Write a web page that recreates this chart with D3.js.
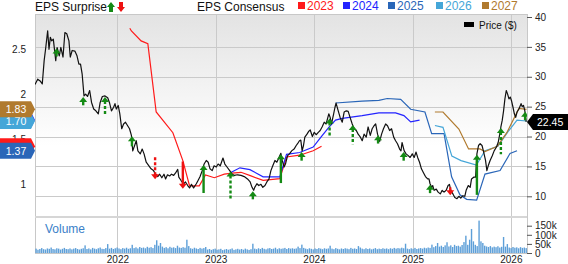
<!DOCTYPE html>
<html>
<head>
<meta charset="utf-8">
<script src="https://cdn.jsdelivr.net/npm/d3@7"></script>
<style>
body { margin: 0; background: #fff; }
svg { display: block; font-family: "Liberation Sans", Arial, sans-serif; }
</style>
</head>
<body>
<svg id="chart"></svg>
<script>
// ---- data ----
const yearTicks = ["2022-01-01", "2023-01-01", "2024-01-01", "2025-01-01", "2026-01-01"];
const priceTicks = [10, 15, 20, 25, 30, 35, 40];
const epsTicks = [1, 1.5, 2, 2.5];
const volTicks = [0, 50, 100, 150];

const priceData = [
  ["2021-03-01",28.7],["2021-03-11",29.6],["2021-03-20",29.3],["2021-03-28",28.8],["2021-04-04",32.7],
  ["2021-04-10",34.9],["2021-04-17",37.7],["2021-04-22",34.6],["2021-04-27",36.6],["2021-05-02",36.0],
  ["2021-05-08",36.3],["2021-05-17",32.7],["2021-05-22",34.9],["2021-05-30",33.5],["2021-06-05",34.9],
  ["2021-06-13",33.3],["2021-06-20",37.4],["2021-06-27",37.2],["2021-07-05",36.0],["2021-07-10",33.3],
  ["2021-07-17",34.4],["2021-07-27",34.3],["2021-08-04",33.5],["2021-08-11",32.1],["2021-08-17",32.1],
  ["2021-08-23",30.5],["2021-08-30",26.8],["2021-09-05",27.1],["2021-09-12",26.7],["2021-09-20",27.7],
  ["2021-09-27",25.7],["2021-10-05",24.6],["2021-10-13",24.3],["2021-10-22",23.8],["2021-10-29",25.7],
  ["2021-11-06",26.7],["2021-11-16",26.8],["2021-11-26",26.5],["2021-12-03",25.6],["2021-12-10",24.3],
  ["2021-12-18",24.9],["2021-12-23",25.5],["2021-12-28",24.6],["2022-01-04",25.2],["2022-01-10",23.8],
  ["2022-01-17",21.3],["2022-01-24",22.1],["2022-01-31",22.4],["2022-02-08",21.8],["2022-02-15",21.3],
  ["2022-02-22",20.2],["2022-02-27",17.6],["2022-03-12",19.3],["2022-03-18",17.6],["2022-03-27",17.1],
  ["2022-04-03",17.9],["2022-04-10",17.1],["2022-04-18",15.7],["2022-04-28",15.1],["2022-05-06",14.6],
  ["2022-05-15",14.3],["2022-05-23",13.7],["2022-05-31",13.3],["2022-06-07",13.7],["2022-06-15",13.1],
  ["2022-06-23",13.7],["2022-06-29",12.9],["2022-07-06",13.6],["2022-07-14",13.4],["2022-07-21",13.7],
  ["2022-07-29",13.5],["2022-08-05",13.9],["2022-08-13",14.5],["2022-08-17",13.2],["2022-08-26",12.6],
  ["2022-09-04",12.1],["2022-09-11",12.4],["2022-09-19",11.8],["2022-09-26",11.4],["2022-10-03",12.0],
  ["2022-10-11",11.4],["2022-10-21",12.1],["2022-10-28",12.7],["2022-11-04",13.3],["2022-11-12",14.3],
  ["2022-11-19",15.4],["2022-11-27",16.0],["2022-12-04",15.7],["2022-12-11",14.6],["2022-12-19",14.3],
  ["2022-12-26",15.1],["2023-01-03",14.9],["2023-01-10",15.4],["2023-01-18",15.1],["2023-01-28",16.4],
  ["2023-02-04",15.4],["2023-02-12",14.9],["2023-02-22",14.3],["2023-03-03",13.7],["2023-03-11",13.5],
  ["2023-03-23",13.6],["2023-04-05",13.5],["2023-04-17",13.3],["2023-04-29",12.9],["2023-05-09",12.4],
  ["2023-05-16",11.5],["2023-05-22",11.0],["2023-05-26",11.5],["2023-06-03",12.1],["2023-06-10",11.8],
  ["2023-06-18",12.0],["2023-06-25",11.5],["2023-07-03",11.8],["2023-07-10",12.4],["2023-07-18",12.9],
  ["2023-07-25",14.3],["2023-08-01",15.1],["2023-08-09",16.0],["2023-08-16",15.7],["2023-08-24",16.5],
  ["2023-08-31",17.2],["2023-09-05",16.0],["2023-09-12",14.9],["2023-09-17",15.4],["2023-09-25",16.8],
  ["2023-10-02",17.1],["2023-10-10",17.6],["2023-10-19",17.9],["2023-10-27",18.5],["2023-11-01",18.8],
  ["2023-11-08",19.3],["2023-11-13",19.4],["2023-11-18",17.6],["2023-11-23",18.5],["2023-11-28",19.9],
  ["2023-12-06",20.4],["2023-12-13",20.9],["2023-12-18",21.1],["2023-12-26",20.0],["2024-01-02",20.7],
  ["2024-01-09",20.3],["2024-01-17",20.7],["2024-01-24",21.0],["2024-01-31",21.6],["2024-02-08",22.4],
  ["2024-02-15",22.1],["2024-02-25",23.8],["2024-03-01",23.2],["2024-03-06",22.1],["2024-03-14",23.8],
  ["2024-03-19",24.9],["2024-03-23",25.6],["2024-03-31",24.3],["2024-04-07",23.2],["2024-04-15",22.4],
  ["2024-04-22",24.1],["2024-04-30",24.3],["2024-05-07",24.2],["2024-05-14",23.2],["2024-05-22",22.1],
  ["2024-05-29",21.3],["2024-06-06",21.0],["2024-06-13",20.4],["2024-06-20",20.0],["2024-06-28",19.3],
  ["2024-07-05",20.4],["2024-07-13",19.9],["2024-07-20",21.6],["2024-07-28",20.2],["2024-08-04",21.3],
  ["2024-08-11",21.8],["2024-08-17",22.1],["2024-08-24",20.4],["2024-09-01",19.2],["2024-09-08",20.4],
  ["2024-09-15",21.3],["2024-09-23",22.1],["2024-09-30",21.8],["2024-10-08",21.0],["2024-10-15",21.3],
  ["2024-10-23",19.9],["2024-10-30",19.3],["2024-11-06",18.8],["2024-11-14",17.9],["2024-11-19",17.6],
  ["2024-11-23",19.0],["2024-12-01",17.6],["2024-12-08",17.1],["2024-12-16",16.8],["2024-12-23",16.5],
  ["2024-12-31",17.1],["2025-01-07",16.5],["2025-01-14",17.4],["2025-01-20",16.5],["2025-01-27",15.7],
  ["2025-02-03",14.6],["2025-02-11",13.9],["2025-02-18",13.3],["2025-02-26",12.9],["2025-03-03",12.9],
  ["2025-03-07",12.1],["2025-03-13",11.5],["2025-03-17",11.8],["2025-03-22",11.0],["2025-03-30",11.2],
  ["2025-04-06",10.7],["2025-04-14",10.4],["2025-04-21",11.0],["2025-04-28",10.7],["2025-05-06",11.0],
  ["2025-05-13",11.8],["2025-05-18",12.0],["2025-05-23",11.0],["2025-05-31",10.4],["2025-06-07",9.8],
  ["2025-06-15",9.6],["2025-06-22",10.0],["2025-06-29",9.7],["2025-07-07",10.1],["2025-07-14",10.0],
  ["2025-07-19",11.0],["2025-07-27",11.8],["2025-08-03",11.5],["2025-08-08",12.9],["2025-08-16",13.2],
  ["2025-08-23",13.2],["2025-08-28",17.1],["2025-09-03",18.5],["2025-09-09",18.8],["2025-09-16",18.5],
  ["2025-09-21",17.6],["2025-09-29",16.0],["2025-10-04",14.3],["2025-10-09",15.1],["2025-10-16",16.0],
  ["2025-10-24",16.8],["2025-10-31",17.6],["2025-11-08",18.2],["2025-11-15",19.0],["2025-11-20",20.2],
  ["2025-11-25",21.6],["2025-11-30",22.7],["2025-12-05",24.3],["2025-12-10",26.3],["2025-12-15",27.7],
  ["2025-12-20",27.1],["2025-12-25",26.3],["2025-12-30",26.6],["2026-01-04",25.9],["2026-01-09",24.9],
  ["2026-01-14",23.8],["2026-01-19",23.2],["2026-01-24",24.1],["2026-01-31",24.6],["2026-02-08",25.5],
  ["2026-02-12",25.0],["2026-02-17",25.2],["2026-02-22",24.3],["2026-02-27",22.45]
];

// EPS consensus per fiscal year
const cons2023 = [
  ["2022-02-16",2.73],["2022-02-22",2.70],["2022-03-30",2.59],["2022-04-24",2.56],["2022-05-25",1.80],
  ["2022-07-26",1.57],["2022-09-01",1.26],["2022-09-26",0.98],["2022-11-01",0.98],["2022-11-24",1.10],
  ["2022-12-27",1.07],["2023-02-02",1.11],["2023-03-03",1.12],["2023-04-05",1.13],["2023-05-12",1.09],
  ["2023-06-26",1.04],["2023-08-27",1.06],["2023-09-21",1.30],["2023-11-09",1.32],["2023-12-29",1.37],
  ["2024-01-29",1.42]
];
const cons2024 = [
  ["2023-02-28",1.13],["2023-04-01",1.18],["2023-05-08",1.16],["2023-06-26",1.08],["2023-08-27",1.08],
  ["2023-09-21",1.33],["2023-11-09",1.35],["2023-12-29",1.41],["2024-01-29",1.53],["2024-02-25",1.63],
  ["2024-03-21",1.71],["2024-04-15",1.73],["2024-06-28",1.76],["2024-08-29",1.79],["2024-10-30",1.79],
  ["2024-11-30",1.76],["2024-12-25",1.69],["2025-01-27",1.71]
];
const cons2025 = [
  ["2024-03-21",1.90],["2024-06-28",1.92],["2024-08-29",1.93],["2024-09-29",1.95],["2024-11-18",1.94],
  ["2024-12-25",1.83],["2025-02-16",1.80],["2025-03-13",1.56],["2025-04-28",1.56],["2025-05-26",1.08],
  ["2025-06-26",0.88],["2025-07-21",0.83],["2025-08-27",0.82],["2025-09-27",1.11],["2025-11-22",1.15],
  ["2025-12-29",1.34],["2026-01-24",1.37]
];
const cons2026 = [
  ["2025-03-25",1.65],["2025-04-24",1.63],["2025-05-27",1.31],["2025-06-30",1.26],["2025-08-26",1.21],
  ["2025-09-27",1.37],["2025-11-14",1.42],["2025-12-21",1.58],["2026-01-24",1.71],["2026-02-28",1.70]
];
const cons2027 = [
  ["2025-03-25",1.80],["2025-04-24",1.80],["2025-06-22",1.61],["2025-07-28",1.39],["2025-09-08",1.39],
  ["2025-09-27",1.36],["2025-11-12",1.42],["2025-12-17",1.57],["2026-01-31",1.84],["2026-02-28",1.83]
];

// EPS surprise events (percent), dashed = dashed arrow stem
const surpriseDates = ["2021-05-20","2021-08-27","2021-11-16","2022-02-24","2022-05-21","2022-09-01",
  "2022-11-17","2023-02-25","2023-05-19","2023-08-31","2023-11-16","2024-02-28","2024-05-24",
  "2024-08-26","2024-11-29","2025-03-07","2025-05-21","2025-08-28","2025-11-25","2026-02-23"];
const surprisePct = [9, 10.5, 23, 12.5, -29, -34, 35, 35, 10, 36, 11, 22.5, 24, 10.5, 11, 10.5, -8.5, 50, 33, 10.5];
const surpriseDashed = [false, false, true, false, true, false, false, true, false, false, false, true, true,
  false, false, false, false, false, true, false];

// weekly volume, thousands
const volStart = "2021-03-05";
const volumes = [
  24,18,22,27,21,19,25,23,30,22,20,26,24,19,23,28,22,21,25,20,24,27,22,19,23,26,42,
  22,25,20,28,24,21,26,30,23,22,27,49,
  24,28,22,26,30,25,21,27,24,29,23,26,45,
  27,31,25,33,28,30,26,34,29,32,27,45,70,40,55,35,
  28,32,26,34,29,31,27,40,30,28,32,29,73,38,
  26,23,29,25,22,28,24,27,33,
  19,22,17,21,24,18,20,23,16,19,22,18,21,25,17,20,23,19,22,18,24,20,17,21,51,
  24,21,26,22,28,23,20,25,27,22,24,29,21,26,23,25,28,22,27,24,26,23,25,35,27,46,
  28,24,21,26,23,20,25,22,27,24,21,26,23,25,40,
  24,21,27,23,20,25,22,26,24,21,28,23,25,22,38,30,
  24,21,26,22,25,20,23,27,21,24,22,26,23,25,21,
  26,23,28,24,27,25,29,26,51,
  24,21,26,23,28,22,25,27,24,29,26,30,28,
  46,32,38,55,35,40,33,42,59,
  36,42,33,45,38,40,35,44,
  60,95,45,73,132,64,45,38,178,64,55,40,
  36,33,38,31,35,32,37,30,34,88,35,49,
  30,27,33,29,31,26,32,28,30,27
];

// ---- layout ----
const W = 568, H = 264;
const pLeft = 35, pRight = 527, pTop = 14, mainBottom = 217, volBottom = 253;
const parse = d3.timeParse("%Y-%m-%d");
const font = "Liberation Sans, Arial, sans-serif";

const svg = d3.select("#chart").attr("width", W).attr("height", H);

const x = d3.scaleTime()
  .domain([parse("2021-03-01"), parse("2026-03-02")])
  .range([pLeft, pRight]);
const yPrice = d3.scaleLinear().domain([10, 40]).range([196.3, 17]);
const yEps = d3.scaleLinear().domain([1, 2.5]).range([184, 49]);
const yVol = d3.scaleLinear().domain([0, 150]).range([volBottom, 225.7]);

// background gradient in the price panel
const defs = svg.append("defs");
const grad = defs.append("linearGradient").attr("id", "bg").attr("x1", 0).attr("y1", 0).attr("x2", 0).attr("y2", 1);
grad.append("stop").attr("offset", "0%").attr("stop-color", "#e3e3e3");
grad.append("stop").attr("offset", "65%").attr("stop-color", "#ffffff");
grad.append("stop").attr("offset", "100%").attr("stop-color", "#ffffff");
defs.append("clipPath").attr("id", "clip")
  .append("rect").attr("x", pLeft).attr("y", pTop).attr("width", pRight - pLeft).attr("height", mainBottom - pTop);

svg.append("rect").attr("x", pLeft).attr("y", pTop).attr("width", pRight - pLeft).attr("height", mainBottom - pTop)
  .attr("fill", "url(#bg)");

// grid (the top tick sits just under the frame, so no line there)
const grid = svg.append("g").attr("stroke", "#cacaca").attr("stroke-width", 1);
grid.selectAll(".hg").data(priceTicks.filter(d => d < 40)).enter().append("line")
  .attr("x1", pLeft).attr("x2", pRight)
  .attr("y1", d => Math.round(yPrice(d)) + 0.5).attr("y2", d => Math.round(yPrice(d)) + 0.5);
grid.selectAll(".vg").data(yearTicks).enter().append("line")
  .attr("x1", d => Math.round(x(parse(d))) + 0.5).attr("x2", d => Math.round(x(parse(d))) + 0.5)
  .attr("y1", pTop).attr("y2", volBottom);

// frame
svg.append("rect").attr("x", pLeft + 0.5).attr("y", pTop + 0.5)
  .attr("width", pRight - pLeft).attr("height", volBottom - pTop)
  .attr("fill", "none").attr("stroke", "#c8c8c8");
svg.append("line").attr("x1", pLeft).attr("x2", pRight).attr("y1", mainBottom).attr("y2", mainBottom)
  .attr("stroke", "#d6d6d6").attr("stroke-width", 2);

// volume
svg.append("g").selectAll("rect").data(volumes).enter().append("rect")
  .attr("x", (d, i) => x(d3.timeDay.offset(parse(volStart), i * 7)) - 0.7)
  .attr("width", 1.4)
  .attr("y", d => yVol(d))
  .attr("height", d => volBottom - yVol(d))
  .attr("fill", "#5d9fd8");
svg.append("text").attr("x", 45).attr("y", 233).attr("font-size", 12).attr("fill", "#3a80c8").text("Volume");

// consensus lines
const series = [
  { name: "2023", data: cons2023, color: "#ff1a1a" },
  { name: "2024", data: cons2024, color: "#2323ff" },
  { name: "2025", data: cons2025, color: "#2a66b8" },
  { name: "2026", data: cons2026, color: "#45a6d8" },
  { name: "2027", data: cons2027, color: "#b07a2e" }
];
const plotG = svg.append("g").attr("clip-path", "url(#clip)");
const epsLine = d3.line().x(d => x(parse(d[0]))).y(d => yEps(d[1]));
series.forEach(s => {
  plotG.append("path").attr("d", epsLine(s.data)).attr("fill", "none")
    .attr("stroke", s.color).attr("stroke-width", 1.2);
});

// price line
const priceLine = d3.line().x(d => x(parse(d[0]))).y(d => yPrice(d[1]));
plotG.append("path").attr("d", priceLine(priceData)).attr("fill", "none")
  .attr("stroke", "#111").attr("stroke-width", 1.2).attr("stroke-linejoin", "round");

// surprise arrows
const lenScale = d3.scaleLinear().domain([0, 50]).range([0, 40]);
const bis = d3.bisector(d => parse(d[0])).center;
surpriseDates.forEach((ds, i) => {
  const dt = parse(ds);
  const p = priceData[bis(priceData, dt)][1];
  const cx = x(dt), y0 = yPrice(p);
  const up = surprisePct[i] > 0;
  const len = Math.max(8, lenScale(Math.abs(surprisePct[i])));
  const col = up ? "#148a14" : "#ee1111";
  const dash = surpriseDashed[i] ? "3,2" : null;
  const g = plotG.append("g");
  if (up) {
    const tip = y0 + 1;
    g.append("line").attr("x1", cx).attr("x2", cx).attr("y1", tip + 4).attr("y2", tip + len)
      .attr("stroke", col).attr("stroke-width", 2.4).attr("stroke-dasharray", dash);
    g.append("path").attr("d", `M${cx},${tip}L${cx + 4},${tip + 5}L${cx - 4},${tip + 5}Z`).attr("fill", col);
  } else {
    const tip = y0 + 5;
    g.append("line").attr("x1", cx).attr("x2", cx).attr("y1", tip - 4).attr("y2", tip - len)
      .attr("stroke", col).attr("stroke-width", 2.4).attr("stroke-dasharray", dash);
    g.append("path").attr("d", `M${cx},${tip}L${cx + 4},${tip - 5}L${cx - 4},${tip - 5}Z`).attr("fill", col);
  }
});

// right price axis
const rAxis = svg.append("g").attr("transform", `translate(${pRight},0)`)
  .call(d3.axisRight(yPrice).tickValues(priceTicks).tickSize(5).tickPadding(3));
const rVol = svg.append("g").attr("transform", `translate(${pRight},0)`)
  .call(d3.axisRight(yVol).tickValues(volTicks).tickSize(5).tickPadding(3)
    .tickFormat(d => d === 0 ? "0" : d + "k"));
[rAxis, rVol].forEach(a => {
  a.select(".domain").remove();
  a.selectAll("line").attr("stroke", "#555");
  a.selectAll("text").attr("font-size", 10).attr("fill", "#222").attr("font-family", font);
});

// left EPS axis
const lAxis = svg.append("g").attr("transform", `translate(${pLeft},0)`)
  .call(d3.axisLeft(yEps).tickValues(epsTicks).tickSize(0).tickPadding(9).tickFormat(d3.format("")));
lAxis.select(".domain").remove();
lAxis.selectAll("text").attr("font-size", 10).attr("fill", "#222").attr("font-family", font);

// bottom year axis
const bAxis = svg.append("g").attr("transform", `translate(0,${volBottom})`)
  .call(d3.axisBottom(x).tickValues(yearTicks.map(parse)).tickSize(0).tickPadding(3).tickFormat(d3.timeFormat("%Y")));
bAxis.select(".domain").remove();
bAxis.selectAll("text").attr("font-size", 10).attr("fill", "#222").attr("font-family", font);

// left consensus tags; a later tag sitting almost on top hides the earlier one's label
const tagVals = series.map(s => s.data[s.data.length - 1][1]);
series.forEach((s, i) => {
  const v = tagVals[i];
  const ty = yEps(v);
  svg.append("path").attr("d", `M0,${ty - 8}H31L35,${ty}L31,${ty + 8}H0Z`).attr("fill", s.color);
  const covered = tagVals.slice(i + 1).some(w => Math.abs(yEps(w) - ty) < 8);
  if (!covered) {
    svg.append("text").attr("x", 16).attr("y", ty + 4).attr("text-anchor", "middle")
      .attr("font-size", 10.5).attr("fill", "#fff").text(d3.format(".2f")(v));
  }
});

// right price tag
const lp = priceData[priceData.length - 1][1];
const py = yPrice(lp);
svg.append("path").attr("d", `M${pRight},${py}L${pRight + 6},${py - 8}H${W}V${py + 8}H${pRight + 6}Z`).attr("fill", "#000");
svg.append("text").attr("x", 537).attr("y", py + 4).attr("font-size", 10.5).attr("fill", "#fff").text(d3.format(".2f")(lp));

// top legend
svg.append("text").attr("x", 35).attr("y", 11).attr("font-size", 12).attr("fill", "#111").text("EPS Surprise");
svg.append("path").attr("d", "M111,2L115,7H113V12H109V7H107Z").attr("fill", "#148a14");
svg.append("path").attr("d", "M121,12L125,7H123V2H119V7H117Z").attr("fill", "#ee1111");
svg.append("text").attr("x", 197).attr("y", 11).attr("font-size", 12).attr("fill", "#111").text("EPS Consensus");

const legX = [298, 343, 388, 436, 482];
series.forEach((s, i) => {
  svg.append("rect").attr("x", legX[i]).attr("y", 2).attr("width", 7).attr("height", 7).attr("fill", s.color);
  svg.append("text").attr("x", legX[i] + 9).attr("y", 10).attr("font-size", 12).attr("fill", s.color).text(s.name);
});

svg.append("rect").attr("x", 464).attr("y", 22).attr("width", 10).attr("height", 5).attr("fill", "#000");
svg.append("text").attr("x", 479).attr("y", 29).attr("font-size", 10).attr("fill", "#111").text("Price ($)");
</script>
</body>
</html>
